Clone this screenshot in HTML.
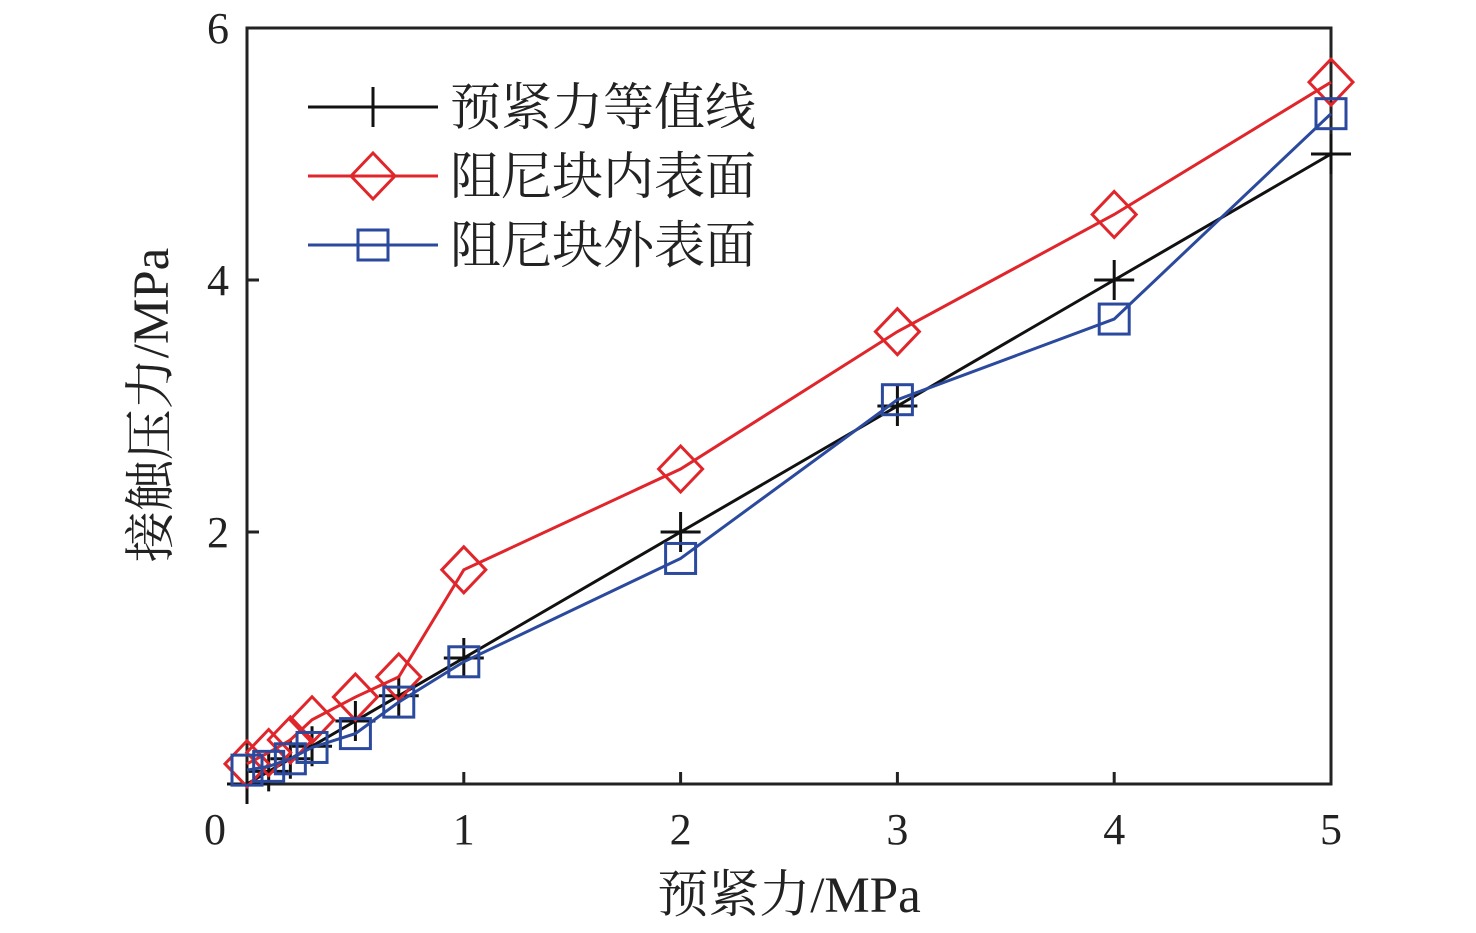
<!DOCTYPE html>
<html><head><meta charset="utf-8"><style>
html,body{margin:0;padding:0;background:#fff;}
svg text{font-family:"Liberation Serif","Noto Serif CJK SC",serif;fill:#222;}
</style></head><body>
<svg id="chart" width="1476" height="928" xmlns="http://www.w3.org/2000/svg"></svg>
<script>
const xCats=[0,0.1,0.2,0.3,0.5,0.7,1,2,3,4,5];
const equalVals=[0,0.1,0.2,0.3,0.5,0.7,1,2,3,4,5];
const innerVals=[0.16,0.25,0.35,0.51,0.69,0.85,1.7,2.5,3.59,4.52,5.57];
const outerVals=[0.11,0.14,0.2,0.29,0.4,0.65,0.97,1.79,3.05,3.69,5.32];
const xTicks=[0,1,2,3,4,5];
const yTicks=[2,4,6];
const NS="http://www.w3.org/2000/svg";
const svg=document.getElementById('chart');
const L=247,R=1331,T=28,B=784;
const sx=v=>L+(R-L)*v/5, sy=v=>B-(B-T)*v/6;
function mk(tag,attrs,parent){const e=document.createElementNS(NS,tag);for(const k in attrs)e.setAttribute(k,attrs[k]);(parent||svg).appendChild(e);return e;}
const frame=mk('rect',{x:L,y:T,width:R-L,height:B-T,fill:'none',stroke:'#222','stroke-width':3});


xTicks.forEach(t=>{
 const l=mk('line',{x1:sx(t),x2:sx(t),y1:B,y2:B-12,stroke:'#222','stroke-width':3});
 
 
 const tx=mk('text',{x:sx(t)-(t==0?32:0),y:B+60,'font-size':44,'text-anchor':'middle'});tx.textContent=t;
 
 
});
yTicks.forEach(t=>{
 const l=mk('line',{x1:L,x2:L+12,y1:sy(t),y2:sy(t),stroke:'#222','stroke-width':3});
 
 
 const tx=mk('text',{x:L-18,y:sy(t)+15,'font-size':44,'text-anchor':'end'});tx.textContent=t;
 
 
});
const xt=mk('text',{x:789,y:912,'font-size':51,'text-anchor':'middle'});xt.textContent='预紧力/MPa';


const yt=mk('text',{x:0,y:0,'font-size':51,'text-anchor':'middle',transform:'translate(168,405) rotate(-90)'});yt.textContent='接触压力/MPa';


function marker(type,cx,cy,color,g){
 if(type=='plus'){mk('path',{d:`M${cx-20},${cy}H${cx+20}M${cx},${cy-20}V${cy+20}`,stroke:color,'stroke-width':3,fill:'none'},g);}
 else if(type=='diamond'){mk('path',{d:`M${cx},${cy-23}L${cx+22},${cy}L${cx},${cy+23}L${cx-22},${cy}Z`,stroke:color,'stroke-width':3,fill:'none'},g);}
 else{mk('rect',{x:cx-15,y:cy-15,width:30,height:30,stroke:color,'stroke-width':3,fill:'none'},g);}
}
const series=[[equalVals,'#111','plus','series-equal'],[innerVals,'#e0252b','diamond','series-inner'],[outerVals,'#2b4a9e','square','series-outer']];
series.forEach(([vals,color,type,name])=>{
 const g=mk('g',{});
 
 
 mk('polyline',{points:xCats.map((x,i)=>sx(x)+','+sy(vals[i])).join(' '),fill:'none',stroke:color,'stroke-width':3},g);
 xCats.forEach((x,i)=>marker(type,sx(x),sy(vals[i]),color,g));
});
const labels=['预紧力等值线','阻尼块内表面','阻尼块外表面'];
series.forEach(([v,color,type],i)=>{
 const y=107+69*i;
 const g=mk('g',{});
 
 
 mk('line',{x1:308,x2:438,y1:y,y2:y,stroke:color,'stroke-width':3},g);
 marker(type,373,y,color,g);
 const t=mk('text',{x:450,y:y+18,'font-size':51},g);t.textContent=labels[i];
});
</script>
</body></html>
